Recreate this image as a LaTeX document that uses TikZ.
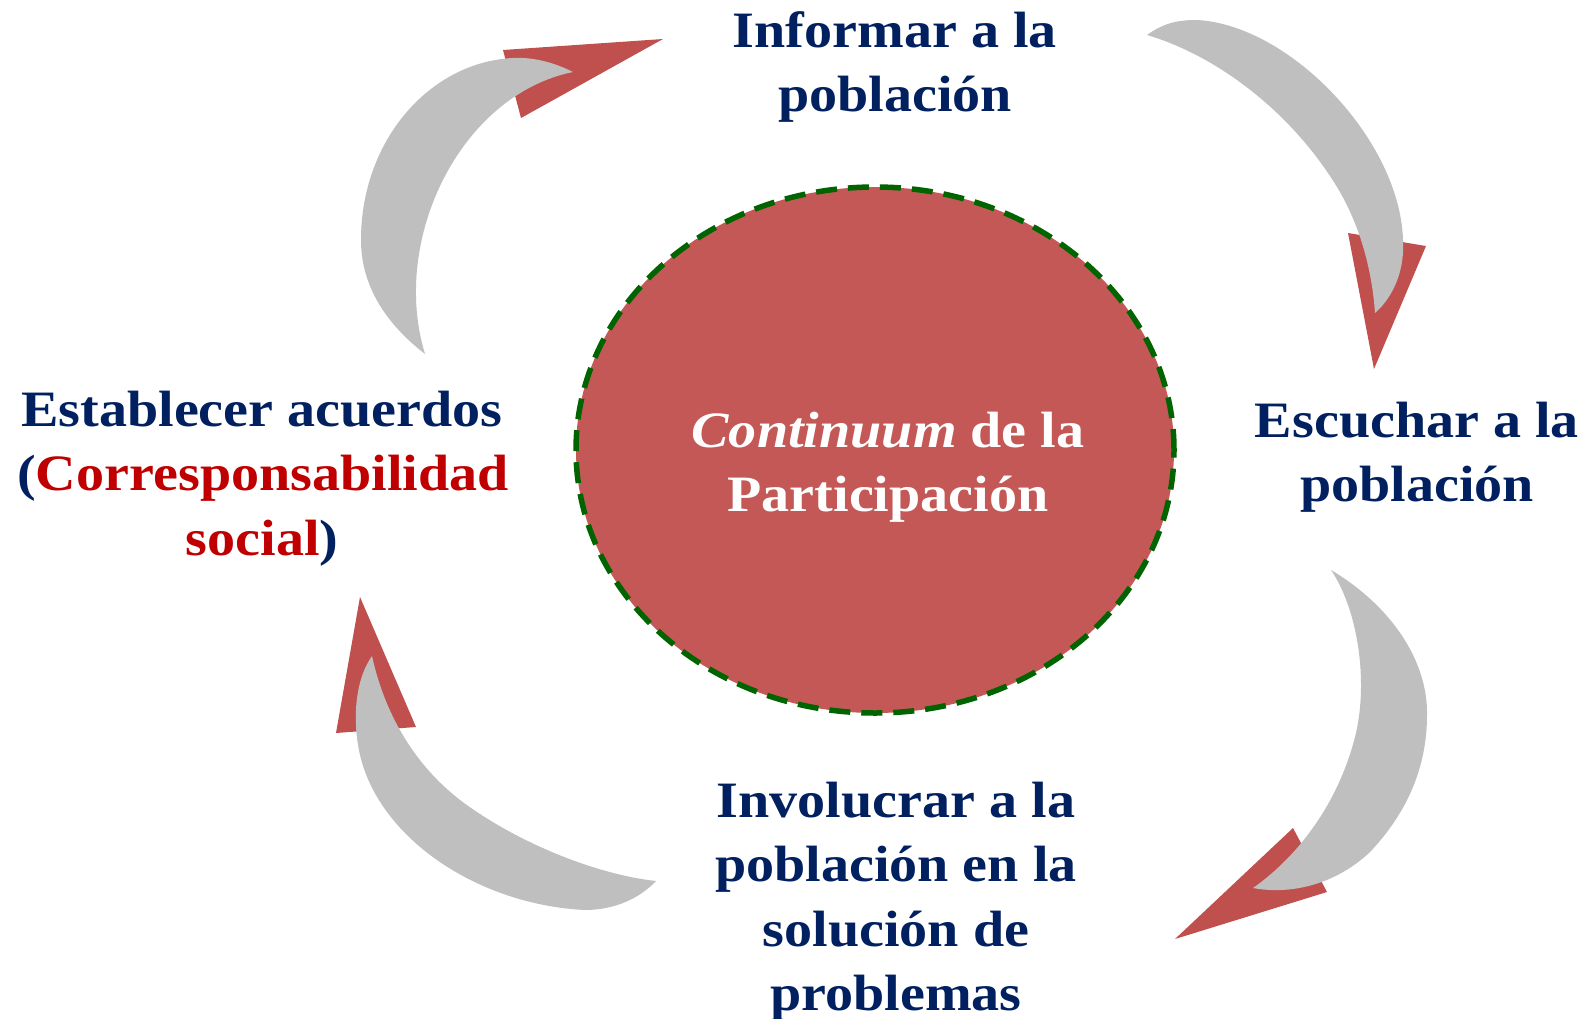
\documentclass[tikz,border=0pt]{standalone}
\usepackage{fontspec}
\newfontfamily\cf{Liberation Serif}[FakeStretch=1.1]
\usetikzlibrary{shapes.geometric}
\definecolor{navy}{HTML}{002060}
\definecolor{redtxt}{HTML}{C00000}
\definecolor{headred}{HTML}{C0504D}
\definecolor{bodygray}{HTML}{BFBFBF}
\definecolor{ellfill}{RGB}{196,88,86}
\definecolor{dashgreen}{HTML}{006400}
\tikzset{
  lbl/.style={anchor=base, inner sep=0pt, text=navy, font=\cf\bfseries\fontsize{51}{64}\selectfont},
  inlbl/.style={anchor=base, inner sep=0pt, text=white, font=\cf\bfseries\fontsize{51}{64}\selectfont},
  headtri/.style={fill=headred},
  bodyarc/.style={fill=bodygray},
  core/.style={ellipse, draw=dashgreen, line width=5.5pt, dash pattern=on 21pt off 11pt, fill=ellfill, minimum width=598pt, minimum height=526pt, inner sep=0pt}
}
\begin{document}
\begin{tikzpicture}[x=1pt,y=-1pt]
\useasboundingbox (0,0) rectangle (1583,1018);
\fill[white] (0,0) rectangle (1583,1018);

% central ellipse
\node[core] (core) at (875,450) {};
\node[inlbl] (c1) at (888,447) {\textit{Continuum} de la};
\node[inlbl] (c2) at (888,511) {Participación};

% ---- arrow 1 (top-left) ----
\fill[headtri] (503,50) -- (663,39) -- (521,118) -- cycle;
\fill[bodyarc] (425,354) .. controls (385,323) and (361,285) .. (361,240)
  .. controls (361,140) and (430,62) .. (513,58)
  .. controls (535,57) and (555,63) .. (573,72)
  .. controls (460,95) and (390,240) .. (425,354) -- cycle;

% ---- arrow 2 (top-right) ----
\fill[headtri] (1348,233) -- (1426,246) -- (1374,369) -- cycle;
\fill[bodyarc] (1147,35) .. controls (1165,22) and (1180,20) .. (1197,20)
  .. controls (1290,25) and (1400,140) .. (1403,240)
  .. controls (1405,275) and (1390,300) .. (1375,313)
  .. controls (1372,270) and (1360,225) .. (1337,187)
  .. controls (1290,110) and (1215,55) .. (1147,35) -- cycle;

% ---- arrow 3 (bottom-right) ----
\fill[headtri] (1293,828) -- (1327,892) -- (1175,939) -- cycle;
\fill[bodyarc] (1331,570) .. controls (1390,605) and (1428,660) .. (1427,715)
  .. controls (1427,770) and (1405,815) .. (1370,852)
  .. controls (1335,885) and (1290,895) .. (1253,888)
  .. controls (1300,855) and (1340,800) .. (1356,733)
  .. controls (1368,680) and (1358,610) .. (1331,570) -- cycle;

% ---- arrow 4 (bottom-left) ----
\fill[headtri] (360,597) -- (336,733) -- (416,727) -- cycle;
\fill[bodyarc] (372,656) .. controls (355,680) and (352,720) .. (360,755)
  .. controls (380,840) and (480,905) .. (585,910)
  .. controls (615,910) and (640,898) .. (656,881)
  .. controls (600,875) and (520,845) .. (460,800)
  .. controls (415,765) and (385,715) .. (372,656) -- cycle;

% ---- labels ----
\node[lbl] (inf1) at (895,47) {Informar a la};
\node[lbl] (inf2) at (895,111) {población};

\node[lbl] (esc1) at (1417,437) {Escuchar a la};
\node[lbl] (esc2) at (1417,501) {población};

\node[lbl] (est1) at (262,426) {Establecer acuerdos};
\node[lbl] (est2) at (263,490) {(\textcolor{redtxt}{Corresponsabilidad}};
\node[lbl] (est3) at (262,555) {\textcolor{redtxt}{social})};

\node[lbl] (inv1) at (896,817) {Involucrar a la};
\node[lbl] (inv2) at (896,881) {población en la};
\node[lbl] (inv3) at (896,946) {solución de};
\node[lbl] (inv4) at (896,1010) {problemas};
\end{tikzpicture}
\end{document}
